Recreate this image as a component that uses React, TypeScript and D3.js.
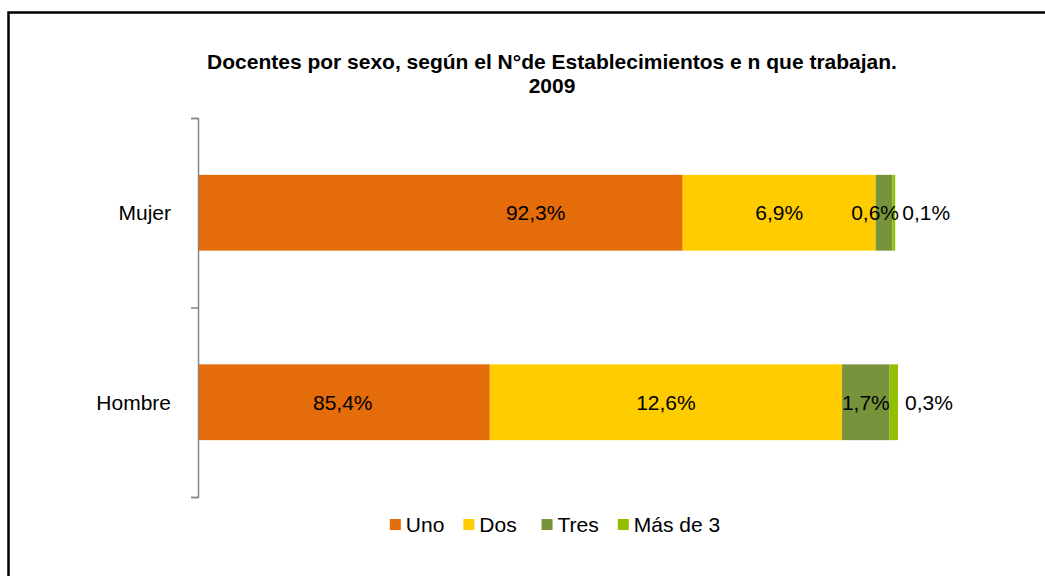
import React, { useEffect, useRef } from 'react'
import * as d3 from 'd3'

// Data (percent of teachers of each sex)
const categories = ['Mujer', 'Hombre']
const seriesNames = ['Uno', 'Dos ', 'Tres', 'Más de 3']
const uno = [92.3, 85.4]
const dos = [6.9, 12.6]
const tres = [0.6, 1.7]
const masDe3 = [0.1, 0.3]

const colors = ['#E46C0A', '#FFCC00', '#77933C', '#92C000']
const title = ['Docentes por sexo, según el N°de Establecimientos e n que trabajan.', '2009']

// the value axis of the original starts at 75% (hidden)
const axisMin = 75
const axisMax = 100

const font = '"Liberation Sans", Arial, sans-serif'

function App() {
  const d3Container = useRef<SVGSVGElement>(null)

  useEffect(() => {
    if (!d3Container.current) return
    const svg = d3.select(d3Container.current)
    svg.selectAll('*').remove()

    const width = 1045, height = 576
    const plot = { left: 199, right: 898, top: 118, bottom: 497 }

    // Outer frame (only top and left visible in the crop)
    svg.append('rect')
      .attr('x', 8.5).attr('y', 12.5)
      .attr('width', 1200).attr('height', 800)
      .attr('fill', 'white')
      .attr('stroke', '#000').attr('stroke-width', 2.5)

    // Title
    svg.append('text')
      .attr('x', 552).attr('y', 69)
      .attr('text-anchor', 'middle')
      .attr('font-family', font).attr('font-weight', 'bold').attr('font-size', 21)
      .selectAll('tspan')
      .data(title)
      .join('tspan')
        .attr('x', 552)
        .attr('dy', (d, i) => (i === 0 ? 0 : 23.5))
        .text(d => d)

    // Build table for stacking
    const series = [uno, dos, tres, masDe3]
    const table = categories.map((c, i) => {
      const row: any = { category: c }
      seriesNames.forEach((s, j) => { row[s] = series[j][i] })
      return row
    })
    const stacked = d3.stack().keys(seriesNames)(table)

    const x = d3.scaleLinear()
      .domain([axisMin, axisMax])
      .range([plot.left, plot.right])
      .clamp(true)

    const y = d3.scaleBand()
      .domain(categories)
      .range([plot.top, plot.bottom])
      .paddingInner(0.6)
      .paddingOuter(0.3)

    // Category axis with ticks between categories
    const yEdges = d3.scaleLinear().domain([0, categories.length]).range([plot.top, plot.bottom])
    const axis = svg.append('g')
      .attr('transform', `translate(${plot.left - 1}, 0)`)
      .call(d3.axisLeft(yEdges)
        .tickValues(d3.range(categories.length + 1))
        .tickSize(7)
        .tickFormat(() => ''))
    axis.selectAll('path, line').attr('stroke', '#868686').attr('stroke-width', 1.5)

    svg.append('g')
      .selectAll('text')
      .data(categories)
      .join('text')
        .attr('x', 171)
        .attr('y', d => (y(d) as number) + y.bandwidth() / 2)
        .attr('dy', '0.35em')
        .attr('text-anchor', 'end')
        .attr('font-family', font).attr('font-size', 21)
        .text(d => d)

    // Bars
    const fmt = d3.formatLocale({ decimal: ',', thousands: '.', grouping: [3], currency: ['', ''] }).format('.1f')
    const layers = svg.append('g')
      .selectAll('g')
      .data(stacked)
      .join('g')
        .attr('fill', (d, i) => colors[i])

    layers.selectAll('rect')
      .data(d => d)
      .join('rect')
        .attr('x', d => x(d[0]))
        .attr('y', d => y(d.data.category as any) as number)
        .attr('width', d => x(d[1]) - x(d[0]))
        .attr('height', y.bandwidth())

    // Data labels
    const labels = svg.append('g')
    stacked.forEach((layer, li) => {
      layer.forEach(d => {
        const cy = (y(d.data.category as any) as number) + y.bandwidth() / 2
        const t = labels.append('text')
          .attr('y', cy)
          .attr('dy', '0.35em')
          .attr('font-family', font).attr('font-size', 21)
          .text(fmt(d[1] - d[0]) + '%')
        const w = (t.node() as SVGTextElement).getComputedTextLength()
        if (li === stacked.length - 1) {
          // smallest slice: label moved outside the bar
          t.attr('x', x(d[1]) + 7).attr('text-anchor', 'start')
        } else {
          let cx = d[0] < axisMin ? x(d[1]) - 147 : (x(d[0]) + x(d[1])) / 2
          cx = Math.min(cx, plot.right + 1 - w / 2)
          t.attr('x', cx).attr('text-anchor', 'middle')
        }
      })
    })

    // Legend
    const legend = svg.append('g')
    let lx = 0
    seriesNames.forEach((s, i) => {
      const g = legend.append('g').attr('transform', `translate(${lx}, 0)`)
      g.append('rect')
        .attr('x', 0).attr('y', 519)
        .attr('width', 11).attr('height', 11)
        .attr('fill', colors[i])
      const t = g.append('text')
        .attr('x', 16).attr('y', 532)
        .attr('xml:space', 'preserve')
        .style('white-space', 'pre')
        .attr('font-family', font).attr('font-size', 21)
        .text(s)
      const w = (t.node() as SVGTextElement).getComputedTextLength()
      lx += 16 + w + (i < seriesNames.length - 1 ? 19 : 0)
    })
    legend.attr('transform', `translate(${555 - lx / 2}, 0)`)

    svg.attr('width', width).attr('height', height)
  }, [])

  return (
    <svg
      ref={d3Container}
      width={1045}
      height={576}
      style={{ position: 'absolute', left: 0, top: 0, background: 'white' }}
    />
  )
}

export default App
